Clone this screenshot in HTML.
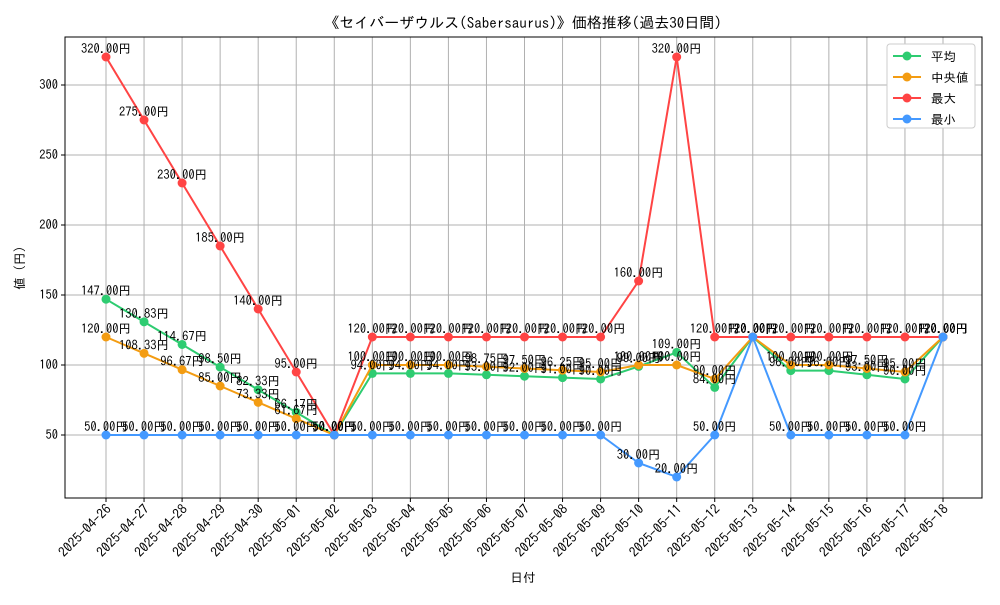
<!DOCTYPE html>
<html><head><meta charset="utf-8">
<style>
body{margin:0;background:#fff;}
svg text{font-family:"IPAGothic","Liberation Sans","Noto Sans CJK JP",sans-serif;}
</style></head>
<body>
<svg id="chart" width="1000" height="600" xmlns="http://www.w3.org/2000/svg">
<rect width="1000" height="600" fill="#fff"/>
<text x="523" y="28" font-size="15" text-anchor="middle">《セイバーザウルス(Sabersaurus)》価格推移(過去30日間)</text>
<g id="grid"></g>
<g id="axes"></g>
<g id="series"></g>
<text x="523" y="582" font-size="12.5" text-anchor="middle">日付</text>
<text x="0" y="0" font-size="12.5" text-anchor="middle" transform="translate(24,268) rotate(-90)">値 (円)</text>
<g id="legend"></g>
</svg>
<script>
const dates=["2025-04-26","2025-04-27","2025-04-28","2025-04-29","2025-04-30","2025-05-01","2025-05-02","2025-05-03","2025-05-04","2025-05-05","2025-05-06","2025-05-07","2025-05-08","2025-05-09","2025-05-10","2025-05-11","2025-05-12","2025-05-13","2025-05-14","2025-05-15","2025-05-16","2025-05-17","2025-05-18"];
const avgValues=[147,130.83,114.67,98.5,82.33,66.17,50,94,94,94,93,92,91,90,99,109,84,120,96,96,93,90,120];
const medianValues=[120,108.33,96.67,85,73.33,61.67,50,100,100,100,98.75,97.5,96.25,95,100,100,90,120,100,100,97.5,95,120];
const maxValues=[320,275,230,185,140,95,50,120,120,120,120,120,120,120,160,320,120,120,120,120,120,120,120];
const minValues=[50,50,50,50,50,50,50,50,50,50,50,50,50,50,30,20,50,120,50,50,50,50,120];
const yTicks=[50,100,150,200,250,300];
const seriesNames=["平均","中央値","最大","最小"];

const NS="http://www.w3.org/2000/svg";
const L=65,R=982,T=37,B=498;
const x=i=>106+i*(943-106)/(dates.length-1);
const y=v=>435-(v-50)*1.4;
function mk(tag,attrs,parent){const e=document.createElementNS(NS,tag);for(const k in attrs)e.setAttribute(k,attrs[k]);parent.appendChild(e);return e;}
const grid=document.getElementById('grid'),axes=document.getElementById('axes'),ser=document.getElementById('series'),leg=document.getElementById('legend');
dates.forEach((d,i)=>{
  const g=mk('line',{x1:x(i),x2:x(i),y1:T,y2:B,stroke:'#b0b0b0','stroke-width':1},grid);
  
  
  mk('line',{x1:x(i),x2:x(i),y1:B,y2:B+4,stroke:'#000'},axes);
  const t=mk('text',{x:0,y:0,'font-size':13.5,'text-anchor':'end',transform:`translate(${x(i)+6},${B+12}) rotate(-45)`},axes);
  t.textContent=d;
  
  
});
yTicks.forEach(v=>{
  const g=mk('line',{x1:L,x2:R,y1:y(v),y2:y(v),stroke:'#b0b0b0','stroke-width':1},grid);
  
  
  mk('line',{x1:L-4,x2:L,y1:y(v),y2:y(v),stroke:'#000'},axes);
  const t=mk('text',{x:L-7,y:y(v)+4,'font-size':12.5,'text-anchor':'end'},axes);
  t.textContent=v;
  
  
});
const frame=mk('rect',{x:L,y:T,width:R-L,height:B-T,fill:'none',stroke:'#000'},axes);



const series=[[avgValues,'#2ecc71','avg'],[medianValues,'#f39c12','median'],[maxValues,'#ff4444','max'],[minValues,'#4499ff','min']];
series.forEach(([vals,col,nm])=>{
  const g=mk('g',{},ser);
  
  
  const p=mk('polyline',{points:vals.map((v,i)=>x(i)+','+y(v)).join(' '),fill:'none',stroke:col,'stroke-width':2},g);
  
  
  vals.forEach((v,i)=>{
    const c=mk('circle',{cx:x(i),cy:y(v),r:4.5,fill:col},g);
    
    
  });
});
series.forEach(([vals,col,nm])=>{
  vals.forEach((v,i)=>{
    const t=mk('text',{x:x(i),y:y(v)-4,'font-size':12.5,'text-anchor':'middle'},ser);
    t.textContent=v.toFixed(2)+'円';
    
    
  });
});
const lb=mk('rect',{x:887,y:44,width:88,height:84,rx:3,fill:'#fff',stroke:'#ccc'},leg);


series.forEach(([vals,col,nm],k)=>{
  const yy=56+k*21;
  const g=mk('g',{},leg);
  
  
  mk('line',{x1:893,x2:921,y1:yy,y2:yy,stroke:col,'stroke-width':2},g);
  mk('circle',{cx:907,cy:yy,r:4.5,fill:col},g);
  const t=mk('text',{x:931,y:yy+5,'font-size':12.5},g);
  t.textContent=seriesNames[k];
});
</script>
</body></html>
